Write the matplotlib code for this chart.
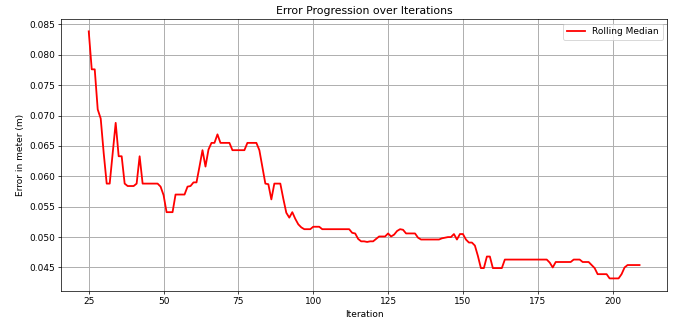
import matplotlib
matplotlib.use("Agg")
import matplotlib.pyplot as plt

iterations = list(range(25, 210))

rolling_median = [
    # 25-34
    0.08385, 0.0776, 0.0776, 0.0710, 0.0695, 0.0638, 0.0588, 0.0588, 0.0638, 0.0688,
    # 35-44
    0.0633, 0.0633, 0.0588, 0.0584, 0.0584, 0.0584, 0.0588, 0.0633, 0.0588, 0.0588,
    # 45-54
    0.0588, 0.0588, 0.0588, 0.0588, 0.0583, 0.0569, 0.0541, 0.0541, 0.0541, 0.0570,
    # 55-64
    0.0570, 0.0570, 0.0570, 0.0583, 0.0584, 0.0590, 0.0590, 0.0616, 0.0643, 0.0616,
    # 65-74
    0.0644, 0.0655, 0.0655, 0.0669, 0.0655, 0.0655, 0.0655, 0.0655, 0.0643, 0.0643,
    # 75-84
    0.0643, 0.0643, 0.0643, 0.0655, 0.0655, 0.0655, 0.0655, 0.0643, 0.0616, 0.0588,
    # 85-94
    0.0587, 0.0562, 0.0588, 0.0588, 0.0588, 0.0563, 0.0540, 0.0532, 0.0541, 0.0530,
    # 95-104
    0.0521, 0.0516, 0.0513, 0.0513, 0.0513, 0.0517, 0.0517, 0.0517, 0.0513, 0.0513,
    # 105-114
    0.0513, 0.0513, 0.0513, 0.0513, 0.0513, 0.0513, 0.0513, 0.0513, 0.0507, 0.0506,
    # 115-124
    0.0497, 0.0493, 0.0493, 0.0492, 0.0493, 0.0493, 0.0497, 0.0501, 0.0501, 0.0501,
    # 125-134
    0.0506, 0.0501, 0.0504, 0.0510, 0.0513, 0.0512, 0.0506, 0.0506, 0.0506, 0.0506,
    # 135-144
    0.0499, 0.0496, 0.0496, 0.0496, 0.0496, 0.0496, 0.0496, 0.0496, 0.0498, 0.0499,
    # 145-154
    0.0500, 0.0500, 0.0505, 0.0496, 0.0505, 0.0505, 0.0496, 0.0491, 0.0491, 0.0486,
    # 155-164
    0.0469, 0.0449, 0.0449, 0.0468, 0.0468, 0.0449, 0.0449, 0.0449, 0.0449, 0.0463,
    # 165-174
    0.0463, 0.0463, 0.0463, 0.0463, 0.0463, 0.0463, 0.0463, 0.0463, 0.0463, 0.0463,
    # 175-184
    0.0463, 0.0463, 0.0463, 0.0463, 0.0458, 0.0450, 0.0459, 0.0459, 0.0459, 0.0459,
    # 185-194
    0.0459, 0.0459, 0.0463, 0.0463, 0.0463, 0.0459, 0.0459, 0.0459, 0.0454, 0.0449,
    # 195-204
    0.0439, 0.0439, 0.0439, 0.0439, 0.0432, 0.0432, 0.0432, 0.0432, 0.0439, 0.0450,
    # 205-209
    0.0454, 0.0454, 0.0454, 0.0454, 0.0454,
]

DPI = 65
fig, ax = plt.subplots(figsize=(680 / DPI, 322 / DPI), dpi=DPI)
fig.subplots_adjust(left=0.090, right=0.981, top=0.941, bottom=0.097)

ax.plot(iterations, rolling_median, color="red", linewidth=2.0, label="Rolling Median")
ax.set_title("Error Progression over Iterations", fontsize=12)
ax.set_xlabel("Iteration", fontsize=10)
ax.set_ylabel("Error in meter (m)", fontsize=10)
ax.grid(True, color="#b0b0b0", linewidth=1.1)
ax.legend(loc="upper right", fontsize=10)

fig.savefig("out.png", dpi=DPI)
